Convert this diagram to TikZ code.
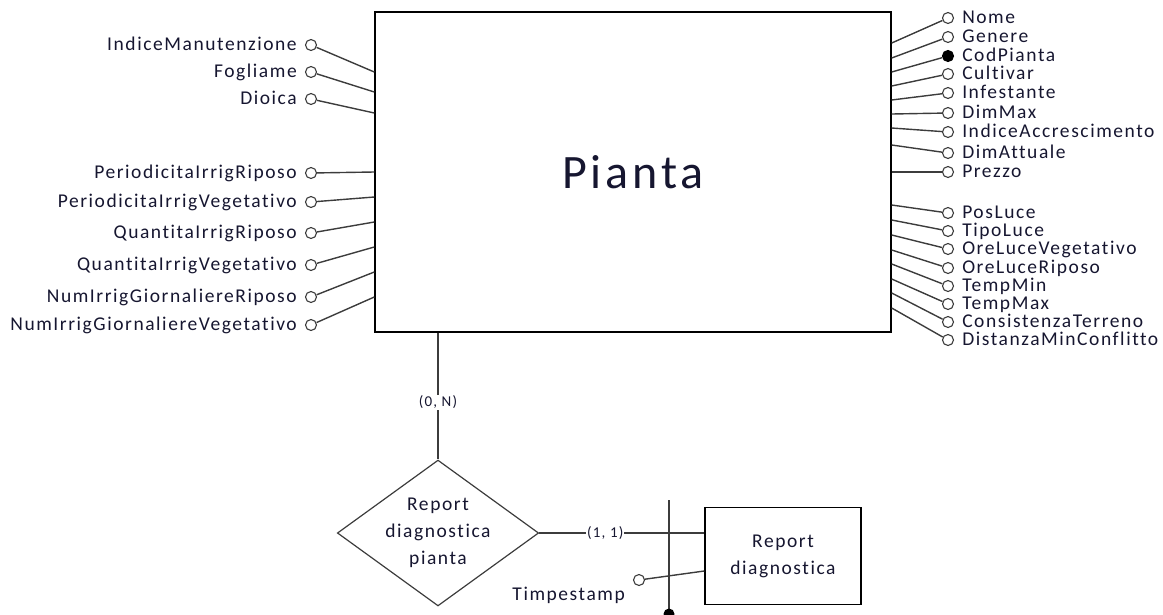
\documentclass[tikz,border=0pt]{standalone}
\usepackage{fontspec}
\setmainfont{Carlito}[LetterSpace=8,Ligatures=NoCommon]
\usetikzlibrary{shapes.geometric,positioning,calc}
\definecolor{erline}{RGB}{60,60,60}
\definecolor{ertext}{RGB}{22,22,48}

\begin{document}
\begin{tikzpicture}[x=1pt,y=-1pt,label distance=8pt,
  attr/.style={circle,draw=erline,line width=1.1pt,inner sep=0pt,minimum size=11pt,fill=white},
  keyattr/.style={attr,fill=black,draw=black},
  link/.style={draw=erline,line width=1.4pt},
  txt/.style={font=\fontsize{19.5}{27}\selectfont,text=ertext},
  lbl/.style={txt,inner sep=0pt,text height=12pt,text depth=2pt},
  card/.style={font=\fontsize{15}{17}\selectfont,text=ertext,fill=white,inner sep=1pt}]
\useasboundingbox (0,0) rectangle (1163,614);
% entity
\node[draw,line width=1.4pt,minimum width=516pt,minimum height=320pt,inner sep=0pt,
  text=ertext,font=\fontsize{48}{50}\selectfont] (pianta) at (633,172) {Pianta};
% left attributes
\foreach \n/\txt/\y/\e in {im/IndiceManutenzione/45/72,fo/Fogliame/72/92,di/Dioica/99/113,
    pir/PeriodicitaIrrigRiposo/173/172,piv/PeriodicitaIrrigVegetativo/202/197,
    qir/QuantitaIrrigRiposo/233/222,qiv/QuantitaIrrigVegetativo/265/247,
    ngr/NumIrrigGiornaliereRiposo/297/272,ngv/NumIrrigGiornaliereVegetativo/325/297}{
  \node[attr,label={[lbl]left:\txt}] (\n) at (311,\y) {};
  \coordinate (\n-e) at (pianta.west |- 0,\e);
  \draw[link] (\n) -- (\n-e);}
% right attributes
\foreach \n/\txt/\y/\e/\s in {nm/Nome/18/43/attr,ge/Genere/37/58/attr,cp/CodPianta/56/72/keyattr,
    cu/Cultivar/74/86/attr,inf/Infestante/93/100/attr,dx/DimMax/113/114/attr,
    ia/IndiceAccrescimento/132/128/attr,da/DimAttuale/153/145/attr,pz/Prezzo/172/172/attr,
    pl/PosLuce/213/205/attr,tl/TipoLuce/231/220/attr,ov/OreLuceVegetativo/249/235/attr,
    orp/OreLuceRiposo/268/250/attr,tn/TempMin/286/264/attr,tx/TempMax/304/279/attr,
    ct/ConsistenzaTerreno/322/293/attr,dm/DistanzaMinConflitto/340/308/attr}{
  \node[\s,label={[lbl]right:\txt}] (\n) at (948,\y) {};
  \coordinate (\n-e) at (pianta.east |- 0,\e);
  \draw[link] (\n) -- (\n-e);}
% relationship
\node[diamond,draw=erline,line width=1.2pt,aspect=1.38,inner sep=0pt,align=center,txt]
  (rdp) at (438,533) {Report\\diagnostica\\pianta};
\node[draw,line width=1.4pt,minimum width=156pt,minimum height=97pt,align=center,txt]
  (rd) at (783,556) {Report\\diagnostica};
\draw[link] (pianta.south -| rdp.north) -- node[card,pos=.55]{(0, N)} (rdp.north);
\draw[link] (rdp.east) -- node[card,pos=.4]{(1, 1)} (rd.west |- rdp.east);
% identifier
\coordinate (id-top) at (669,500);
\coordinate (id-bot) at (669,614);
\draw[link] (id-top) -- (id-bot);
\fill (id-bot) circle (5.5pt);
\node[attr,label={[lbl,anchor=north east,xshift=-4pt,yshift=2pt]south west:Timpestamp}] (ts) at (639,580) {};
\coordinate (ts-e) at (rd.west |- 0,571);
\draw[link] (ts) -- (ts-e);
\end{tikzpicture}
\end{document}
